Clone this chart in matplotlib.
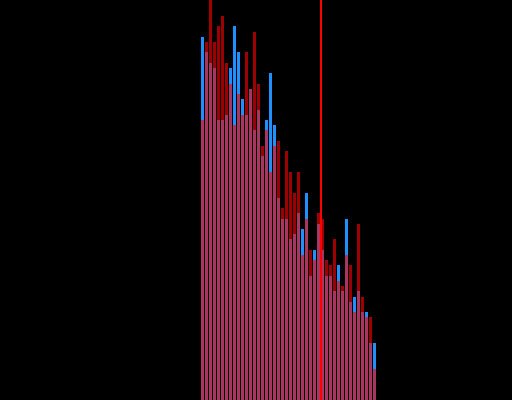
import numpy as np
import matplotlib
matplotlib.use("Agg")
import matplotlib.pyplot as plt

# bar heights (two overlapping series)
blue_vals = [363, 348, 337, 332, 280, 280, 285, 332, 374, 348, 301, 285, 311, 270, 290,
             244, 280, 327, 275, 202, 181, 181, 161, 166, 187, 171, 207, 124, 150, 176,
             150, 124, 124, 109, 135, 109, 181, 98, 103, 109, 88, 88, 57, 57]
red_vals = [280, 358, 410, 358, 374, 384, 337, 316, 275, 306, 285, 348, 311, 368, 316,
            254, 270, 228, 254, 259, 192, 249, 228, 207, 228, 145, 181, 150, 140, 187,
            181, 140, 135, 161, 119, 114, 145, 135, 88, 176, 103, 83, 83, 31]
marker_pos = 29.625

x = np.arange(len(blue_vals))

fig = plt.figure(figsize=(5.12, 4.0), dpi=100, facecolor='black')
ax = fig.add_axes([0, 0, 1, 1])
ax.set_facecolor('black')
ax.bar(x, blue_vals, width=0.75, color='#1e90ff')
ax.bar(x, red_vals, width=0.75, color='red', alpha=0.62)
ax.axvline(marker_pos, color='red', lw=1.44, zorder=3)
ax.set_xlim(-50.625, 77.375)
ax.set_ylim(0, 400)
ax.axis('off')
fig.savefig('out.png', dpi=100, facecolor='black')
